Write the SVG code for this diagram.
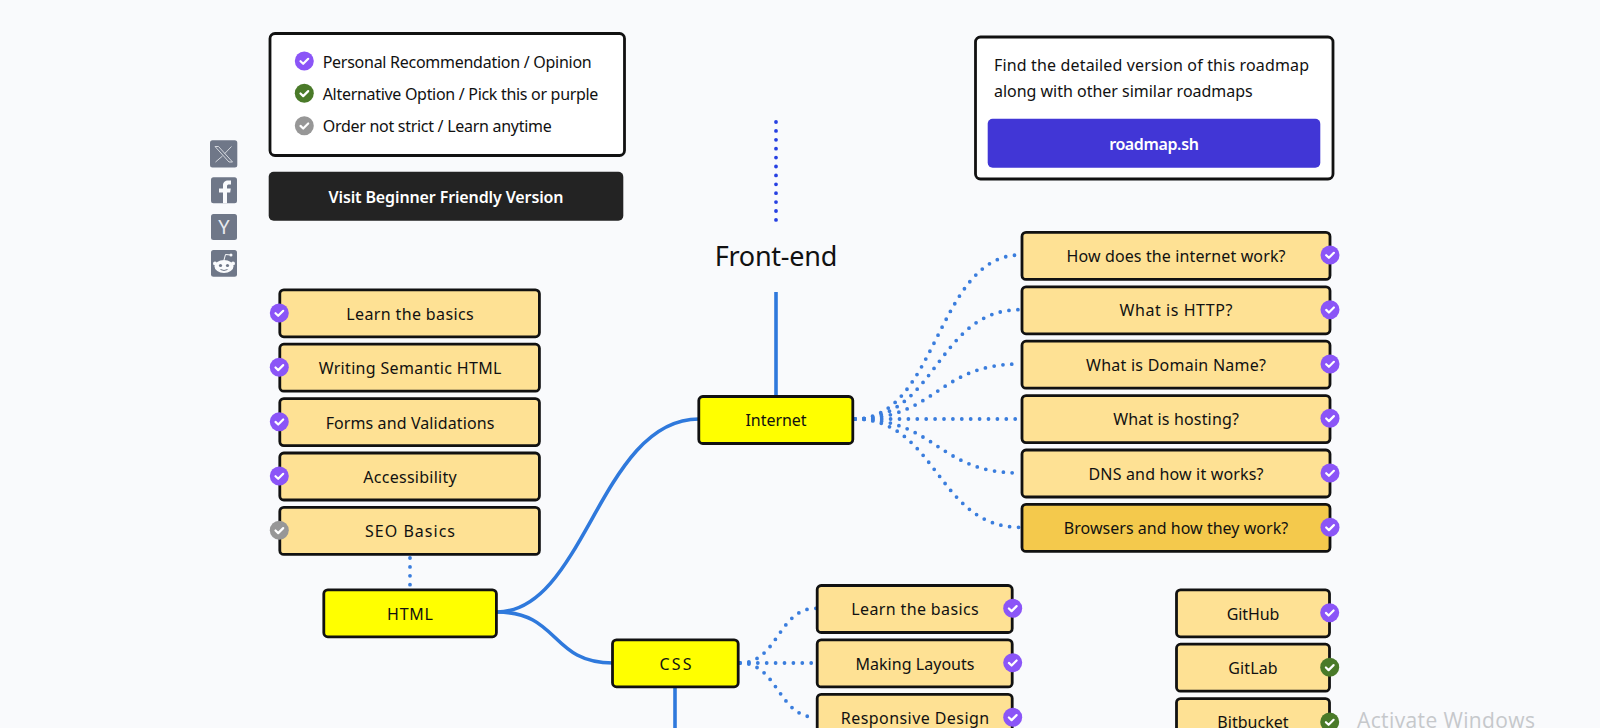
<svg xmlns="http://www.w3.org/2000/svg" width="1600" height="728" viewBox="0 0 1600 728">
<style>
text{font-family:"Noto Sans","Liberation Sans",sans-serif;font-size:16px;fill:#111;text-anchor:middle}
.l{text-anchor:start}
.w{fill:#fff;font-weight:600}
.card{fill:#fff;stroke:#111;stroke-width:2.8}
.topic{fill:#ffff00;stroke:#111;stroke-width:2.8}
.sub{fill:#fee194;stroke:#111;stroke-width:2.8}
.subd{fill:#f4c94c;stroke:#111;stroke-width:2.8}
.solid{fill:none;stroke:#2f79dc;stroke-width:3.6}
.dot{fill:none;stroke:#3a7ddd;stroke-width:3.8;stroke-linecap:round;stroke-dasharray:0 8.9}
.social{fill:#6f7788}
.p{fill:#8b55f7}.g{fill:#4a7a29}.n{fill:#979797}
</style>
<defs>
<path id="tick" d="M-3.8 0.2L-1.1 2.8L3.9 -2.2" fill="none" stroke="#fff" stroke-width="2.2" stroke-linecap="round" stroke-linejoin="round"/>
</defs>
<rect width="1600" height="728" fill="#f9fafc"/>

<g id="connectors">
<path class="dot" d="M776 122V221" style="stroke:#2640e2"/>
<path class="solid" d="M776 292V397"/>
<path class="solid" d="M497 612C585 612 600 419 699 419"/>
<path class="solid" d="M497 612C560 612 550 663 613 663"/>
<path class="solid" d="M675 687V728"/>
<path class="dot" d="M410 558V590"/>
<path class="dot" d="M855 419C937 419 937 255 1020 255"/>
<path class="dot" d="M855 419C937 419 937 309.7 1020 309.7"/>
<path class="dot" d="M855 419C937 419 937 364 1020 364"/>
<path class="dot" d="M855 419H1020"/>
<path class="dot" d="M855 419C937 419 937 473 1020 473"/>
<path class="dot" d="M855 419C937 419 937 527.3 1020 527.3"/>
<path class="dot" d="M740 663C778 663 778 608.3 816 608.3"/>
<path class="dot" d="M740 663H816"/>
<path class="dot" d="M740 663C778 663 778 717.3 816 717.3"/>
</g>

<g id="legend">
<rect class="card" x="270" y="33.5" width="354.5" height="122" rx="5"/>
<circle class="p" cx="304.3" cy="61" r="9.5"/><use href="#tick" x="304.3" y="61"/>
<text class="l" x="322.7" y="68" textLength="269">Personal Recommendation / Opinion</text>
<circle class="g" cx="304.3" cy="93.3" r="9.5"/><use href="#tick" x="304.3" y="93.3"/>
<text class="l" x="322.7" y="100" textLength="275.7">Alternative Option / Pick this or purple</text>
<circle class="n" cx="304.3" cy="125.7" r="9.5"/><use href="#tick" x="304.3" y="125.7"/>
<text class="l" x="322.7" y="132" textLength="229">Order not strict / Learn anytime</text>
</g>

<g id="beginner-button">
<rect x="268.7" y="171.7" width="354.6" height="49" rx="5" fill="#232323"/>
<text class="w" x="446" y="202.5" textLength="235">Visit Beginner Friendly Version</text>
</g>

<g id="social-x">
<rect class="social" x="210" y="140.3" width="27.3" height="27.3" rx="2.5"/>
<path d="M215 146.5L229 162H232.5L218.5 146.5ZM231.5 146.5L224.5 153.8M222.5 156L215.5 162" fill="none" stroke="#d5d8de" stroke-width="1"/>
</g>
<g id="social-facebook">
<rect class="social" x="211" y="177.3" width="26" height="26" rx="2.5"/>
<path d="M223 203.3V192.5H219V188.5H223V185.5C223 182 225.2 180.5 228 180.5H231V184.5H229C227.7 184.5 227 185 227 186.3V188.5H230.8L230.2 192.5H227V203.3Z" fill="#f9fafc"/>
</g>
<g id="social-hackernews">
<rect class="social" x="211" y="214" width="26" height="26" rx="2.5"/>
<text x="224" y="234" style="font-size:20px;fill:#e8eaee">Y</text>
</g>
<g id="social-reddit">
<rect class="social" x="211" y="250" width="26" height="26.7" rx="2.5"/>
<ellipse cx="224" cy="266.5" rx="9.5" ry="6.5" fill="#f9fafc"/>
<circle cx="215" cy="263.5" r="2" fill="#f9fafc"/>
<circle cx="233" cy="263.5" r="2" fill="#f9fafc"/>
<circle cx="231" cy="255" r="1.5" fill="#f9fafc"/>
<path d="M224 260L225.5 254.5L231 255" fill="none" stroke="#f9fafc" stroke-width="1"/>
<circle cx="220.5" cy="265.5" r="1.6" class="social"/>
<circle cx="227.5" cy="265.5" r="1.6" class="social"/>
<path d="M220.5 269.5Q224 271.5 227.5 269.5" fill="none" stroke="#6f7788" stroke-width="1"/>
</g>

<g id="title">
<text x="776" y="266" style="font-size:27px" textLength="122.7">Front-end</text>
</g>

<g id="roadmap-card">
<rect class="card" x="975.5" y="37" width="357.5" height="142" rx="5"/>
<text class="l" x="994" y="70.5" textLength="315">Find the detailed version of this roadmap</text>
<text class="l" x="994" y="96.5" textLength="258.7">along with other similar roadmaps</text>
<rect x="987.7" y="118.7" width="332.6" height="49" rx="5" fill="#4136d6"/>
<text class="w" x="1154" y="150" textLength="89.7">roadmap.sh</text>
</g>

<g id="node-internet"><rect class="topic" x="698.8" y="396.5" width="154" height="47" rx="4"/><text x="776" y="426" textLength="61">Internet</text></g>
<g id="node-html"><rect class="topic" x="323.8" y="589.8" width="172.6" height="47" rx="4"/><text x="410" y="619.5" textLength="46">HTML</text></g>
<g id="node-css"><rect class="topic" x="612.5" y="639.8" width="125.7" height="47" rx="4"/><text x="675.5" y="669.5" textLength="32">CSS</text></g>

<g id="internet-1"><rect class="sub" x="1022" y="232.4" width="308" height="47" rx="4"/><text x="1176" y="262" textLength="219">How does the internet work?</text><circle class="p" cx="1330" cy="255" r="9.5"/><use href="#tick" x="1330" y="255"/></g>
<g id="internet-2"><rect class="sub" x="1022" y="286.8" width="308" height="47" rx="4"/><text x="1176" y="316" textLength="113">What is HTTP?</text><circle class="p" cx="1330" cy="309.7" r="9.5"/><use href="#tick" x="1330" y="309.7"/></g>
<g id="internet-3"><rect class="sub" x="1022" y="341.2" width="308" height="47" rx="4"/><text x="1176" y="370.5" textLength="180">What is Domain Name?</text><circle class="p" cx="1330" cy="364" r="9.5"/><use href="#tick" x="1330" y="364"/></g>
<g id="internet-4"><rect class="sub" x="1022" y="395.6" width="308" height="47" rx="4"/><text x="1176" y="425" textLength="125.7">What is hosting?</text><circle class="p" cx="1330" cy="418.3" r="9.5"/><use href="#tick" x="1330" y="418.3"/></g>
<g id="internet-5"><rect class="sub" x="1022" y="450" width="308" height="47" rx="4"/><text x="1176" y="479.5" textLength="175">DNS and how it works?</text><circle class="p" cx="1330" cy="473" r="9.5"/><use href="#tick" x="1330" y="473"/></g>
<g id="internet-6"><rect class="subd" x="1022" y="504.4" width="308" height="47" rx="4"/><text x="1176" y="534" textLength="224.3">Browsers and how they work?</text><circle class="p" cx="1330" cy="527.3" r="9.5"/><use href="#tick" x="1330" y="527.3"/></g>

<g id="html-1"><rect class="sub" x="279.8" y="289.8" width="259.6" height="47" rx="4"/><text x="410" y="320" textLength="127.3">Learn the basics</text><circle class="p" cx="279.3" cy="313" r="9.5"/><use href="#tick" x="279.3" y="313"/></g>
<g id="html-2"><rect class="sub" x="279.8" y="344.2" width="259.6" height="47" rx="4"/><text x="410" y="374" textLength="182.7">Writing Semantic HTML</text><circle class="p" cx="279.3" cy="367.3" r="9.5"/><use href="#tick" x="279.3" y="367.3"/></g>
<g id="html-3"><rect class="sub" x="279.8" y="398.6" width="259.6" height="47" rx="4"/><text x="410" y="429" textLength="168.7">Forms and Validations</text><circle class="p" cx="279.3" cy="421.7" r="9.5"/><use href="#tick" x="279.3" y="421.7"/></g>
<g id="html-4"><rect class="sub" x="279.8" y="453" width="259.6" height="47" rx="4"/><text x="410" y="483" textLength="93.3">Accessibility</text><circle class="p" cx="279.3" cy="476" r="9.5"/><use href="#tick" x="279.3" y="476"/></g>
<g id="html-5"><rect class="sub" x="279.8" y="507.4" width="259.6" height="47" rx="4"/><text x="410" y="537" textLength="90">SEO Basics</text><circle class="n" cx="279.3" cy="530.3" r="9.5"/><use href="#tick" x="279.3" y="530.3"/></g>

<g id="css-1"><rect class="sub" x="817.2" y="585.5" width="195" height="47" rx="4"/><text x="915" y="614.5" textLength="127.3">Learn the basics</text><circle class="p" cx="1012.7" cy="608.3" r="9.5"/><use href="#tick" x="1012.7" y="608.3"/></g>
<g id="css-2"><rect class="sub" x="817.2" y="639.9" width="195" height="47" rx="4"/><text x="915" y="669.5" textLength="119">Making Layouts</text><circle class="p" cx="1012.7" cy="662.7" r="9.5"/><use href="#tick" x="1012.7" y="662.7"/></g>
<g id="css-3"><rect class="sub" x="817.2" y="694.3" width="195" height="47" rx="4"/><text x="915" y="723.5" textLength="148.3">Responsive Design</text><circle class="p" cx="1012.7" cy="717.3" r="9.5"/><use href="#tick" x="1012.7" y="717.3"/></g>

<g id="git-1"><rect class="sub" x="1176.5" y="589.8" width="153" height="47" rx="4"/><text x="1253" y="619.5" textLength="52.7">GitHub</text><circle class="p" cx="1329.7" cy="612.7" r="9.5"/><use href="#tick" x="1329.7" y="612.7"/></g>
<g id="git-2"><rect class="sub" x="1176.5" y="644.2" width="153" height="47" rx="4"/><text x="1253" y="674" textLength="49.3">GitLab</text><circle class="g" cx="1329.7" cy="667.3" r="9.5"/><use href="#tick" x="1329.7" y="667.3"/></g>
<g id="git-3"><rect class="sub" x="1176.5" y="698.6" width="153" height="47" rx="4"/><text x="1253" y="727.5" textLength="71.3">Bitbucket</text><circle class="g" cx="1329.7" cy="722" r="9.5"/><use href="#tick" x="1329.7" y="722"/></g>

<text class="l" x="1357" y="727.5" style="font-family:'Open Sans','Noto Sans',sans-serif;font-size:21px;fill:#c6c8cb" textLength="178">Activate Windows</text>
</svg>
